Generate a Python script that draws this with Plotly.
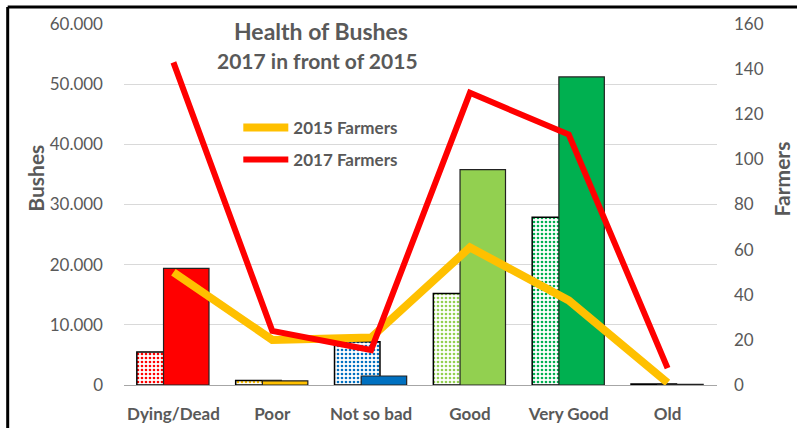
import plotly.graph_objects as go

categories = ['Dying/Dead', 'Poor', 'Not so bad', 'Good', 'Very Good', 'Old']
bushes_2015 = [5500, 750, 7200, 15200, 27900, 150]
bushes_2017 = [19400, 700, 1500, 35800, 51200, 100]
farmers_2015 = [50, 20, 21, 61, 37.5, 1]
farmers_2017 = [143, 24, 15.5, 129.5, 111, 7.5]
bar_colors = ['#FF0000', '#FFC000', '#0070C0', '#92D050', '#00B050', '#002060']

FONT = 'Lato'
GREY = '#595959'

# plot area in pixels: x 123.5..717.5, y 24..385
PL, PW, PB, PH = 123.5, 594, 385, 361


def px_x(x):
    return (x - PL) / PW


def px_y(y):
    return (PB - y) / PH


fig = go.Figure()

# 2015 bushes: dotted bars behind
fig.add_trace(go.Bar(
    x=categories, y=bushes_2015, offset=-0.37, width=0.46,
    marker=dict(color='white', line=dict(color='black', width=1.5),
                pattern=dict(shape='.', fgcolor=bar_colors, bgcolor='white',
                             size=4, solidity=0.35, fillmode='replace')),
    showlegend=False, hoverinfo='x+y'))

# 2017 bushes: solid bars in front
fig.add_trace(go.Bar(
    x=categories, y=bushes_2017, offset=-0.10, width=0.46,
    marker=dict(color=bar_colors, line=dict(color='#222222', width=1.2)),
    showlegend=False, hoverinfo='x+y'))

fig.add_trace(go.Scatter(
    x=categories, y=farmers_2015, yaxis='y2', mode='lines', name='2015 Farmers',
    line=dict(color='#FFC000', width=8), legend='legend'))
fig.add_trace(go.Scatter(
    x=categories, y=farmers_2017, yaxis='y2', mode='lines', name='2017 Farmers',
    line=dict(color='#FF0000', width=6), legend='legend2'))

legend_style = dict(bgcolor='rgba(0,0,0,0)', xanchor='left', yanchor='middle',
                    itemwidth=45,
                    font=dict(family=FONT, size=17, color=GREY, weight='bold'))

fig.update_layout(
    width=797, height=428,
    margin=dict(l=PL, r=797 - PL - PW, t=PB - PH, b=428 - PB),
    paper_bgcolor='white', plot_bgcolor='white',
    barmode='overlay', separators=',.',
    font=dict(family=FONT, color=GREY),
    legend=dict(x=px_x(238), y=px_y(128), **legend_style),
    legend2=dict(x=px_x(238), y=px_y(160), **legend_style),
    xaxis=dict(showline=True, linecolor='#a6a6a6', linewidth=1, ticks='',
               tickfont=dict(family=FONT, size=17, color=GREY, weight='bold'),
               ticklabelstandoff=14, range=[-0.5, 5.5], automargin=False),
    yaxis=dict(range=[0, 60000], dtick=10000, tickformat=',d',
               showgrid=True, gridcolor='#d9d9d9', gridwidth=1,
               zeroline=False, showline=False, ticks='',
               tickfont=dict(family=FONT, size=17, color=GREY),
               ticklabelstandoff=20, automargin=False),
    yaxis2=dict(range=[0, 160], dtick=20, overlaying='y', side='right',
                showgrid=False, zeroline=False, showline=False, ticks='',
                tickfont=dict(family=FONT, size=17, color=GREY),
                ticklabelstandoff=16, automargin=False),
)

# title block with white backing over the top gridline
fig.add_annotation(
    xref='paper', yref='paper', x=px_x(321), y=px_y(31),
    text='<b>Health of Bushes</b>', showarrow=False,
    font=dict(family=FONT, size=23, color=GREY),
    bgcolor='white', borderpad=6, xanchor='center', yanchor='middle')
fig.add_annotation(
    xref='paper', yref='paper', x=px_x(317), y=px_y(60),
    text='<b>2017 in front of 2015</b>', showarrow=False,
    font=dict(family=FONT, size=21, color=GREY), xanchor='center', yanchor='middle')

# axis titles
fig.add_annotation(
    xref='paper', yref='paper', x=px_x(34), y=px_y(178),
    text='<b>Bushes</b>', textangle=-90, showarrow=False,
    font=dict(family=FONT, size=21, color=GREY), xanchor='center', yanchor='middle')
fig.add_annotation(
    xref='paper', yref='paper', x=px_x(782), y=px_y(179),
    text='<b>Farmers</b>', textangle=-90, showarrow=False,
    font=dict(family=FONT, size=21, color=GREY), xanchor='center', yanchor='middle')

# outer frame lines (top and left)
fig.add_shape(type='line', xref='paper', yref='paper',
              x0=px_x(7), x1=px_x(800), y0=px_y(7), y1=px_y(7),
              line=dict(color='black', width=3))
fig.add_shape(type='line', xref='paper', yref='paper',
              x0=px_x(7), x1=px_x(7), y0=px_y(7), y1=px_y(430),
              line=dict(color='black', width=3))

fig.write_html('out.html', config={'displayModeBar': False},
               post_script="document.body.style.margin='0';")
